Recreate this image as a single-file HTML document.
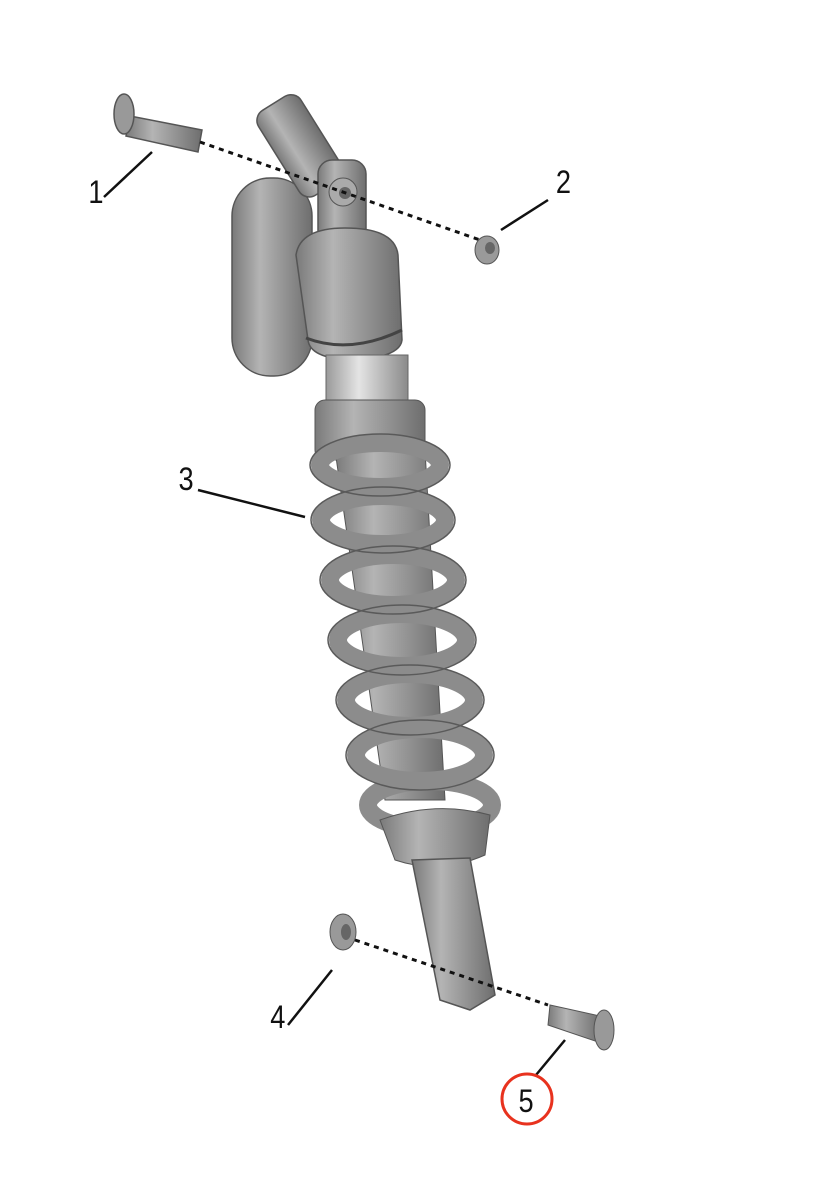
<!DOCTYPE html>
<html><head><meta charset="utf-8"><style>
html,body{margin:0;padding:0;background:#fff;width:816px;height:1200px;overflow:hidden}
svg{display:block}
text{font-family:"Liberation Sans",sans-serif;font-size:32px;fill:#111}
</style></head><body>
<svg width="816" height="1200" viewBox="0 0 816 1200">
<defs>
<linearGradient id="g" x1="0" x2="1" y1="0" y2="0">
<stop offset="0" stop-color="#7a7a7a"/><stop offset="0.35" stop-color="#b4b4b4"/><stop offset="1" stop-color="#6e6e6e"/>
</linearGradient>
<linearGradient id="t" x1="0" x2="1">
<stop offset="0" stop-color="#9a9a9a"/><stop offset="0.4" stop-color="#e4e4e4"/><stop offset="1" stop-color="#8a8a8a"/>
</linearGradient>
</defs>
<!-- bolt 1 -->
<g stroke="#555" stroke-width="1.5">
<polygon points="130,116 202,130 198,152 126,136" fill="url(#g)"/>
<ellipse cx="124" cy="114" rx="10" ry="20" fill="#999"/>
</g>
<!-- reservoir -->
<rect x="232" y="178" width="80" height="198" rx="38" fill="url(#g)" stroke="#555" stroke-width="1.5"/>
<!-- top eye -->
<g transform="rotate(-32 300 140)">
<rect x="272" y="95" width="50" height="100" rx="12" fill="url(#g)" stroke="#555" stroke-width="1.5"/>
</g>
<rect x="318" y="160" width="48" height="90" rx="14" fill="url(#g)" stroke="#555" stroke-width="1.5"/>
<circle cx="343" cy="192" r="14" fill="#aaa" stroke="#555"/>
<circle cx="345" cy="193" r="6" fill="#666"/>
<!-- body cap -->
<path d="M296,255 Q300,228 345,228 Q395,228 398,255 L402,340 Q400,358 350,360 Q310,358 308,340 Z" fill="url(#g)" stroke="#555" stroke-width="1.5"/>
<path d="M306,338 Q350,355 402,330" fill="none" stroke="#444" stroke-width="3"/>
<line x1="200" y1="142" x2="480" y2="240" stroke="#111" stroke-width="3" stroke-dasharray="5,5"/>
<!-- nut 2 -->
<ellipse cx="487" cy="250" rx="12" ry="14" fill="#9a9a9a" stroke="#555"/>
<ellipse cx="490" cy="248" rx="5" ry="6" fill="#666"/>
<!-- thread -->
<rect x="326" y="355" width="82" height="90" fill="url(#t)" stroke="#666"/>
<!-- collar -->
<rect x="315" y="400" width="110" height="60" rx="10" fill="url(#g)" stroke="#555"/>
<!-- shaft body -->
<polygon points="335,450 425,450 445,800 385,800" fill="url(#g)" stroke="#555"/>
<!-- spring coils -->
<g fill="none" stroke="#8c8c8c" stroke-width="18">
<ellipse cx="380" cy="465" rx="60" ry="22"/>
<ellipse cx="383" cy="520" rx="62" ry="24"/>
<ellipse cx="393" cy="580" rx="63" ry="25"/>
<ellipse cx="402" cy="640" rx="64" ry="26"/>
<ellipse cx="410" cy="700" rx="64" ry="26"/>
<ellipse cx="420" cy="755" rx="64" ry="26"/>
<ellipse cx="430" cy="805" rx="62" ry="24"/>
</g>
<g fill="none" stroke="#5a5a5a" stroke-width="1.5">
<ellipse cx="380" cy="465" rx="70" ry="31"/>
<ellipse cx="383" cy="520" rx="72" ry="33"/>
<ellipse cx="393" cy="580" rx="73" ry="34"/>
<ellipse cx="402" cy="640" rx="74" ry="35"/>
<ellipse cx="410" cy="700" rx="74" ry="35"/>
<ellipse cx="420" cy="755" rx="74" ry="35"/>
</g>
<!-- spring seat -->
<path d="M380,820 Q435,800 490,815 L485,855 Q440,875 395,860 Z" fill="url(#g)" stroke="#555"/>
<!-- clevis -->
<polygon points="412,860 470,858 495,995 470,1010 440,1000" fill="url(#g)" stroke="#555" stroke-width="1.5"/>
<!-- washer 4 -->
<ellipse cx="343" cy="932" rx="13" ry="18" fill="#999" stroke="#555"/>
<ellipse cx="346" cy="932" rx="5" ry="8" fill="#666"/>
<line x1="355" y1="940" x2="548" y2="1005" stroke="#111" stroke-width="3" stroke-dasharray="5,5"/>
<!-- bolt 5 -->
<polygon points="550,1005 600,1016 598,1042 548,1025" fill="url(#g)" stroke="#555"/>
<ellipse cx="604" cy="1030" rx="10" ry="20" fill="#999" stroke="#555"/>
<!-- labels -->
<g stroke="#111" stroke-width="2.5">
<line x1="104" y1="197" x2="152" y2="152"/>
<line x1="548" y1="200" x2="501" y2="230"/>
<line x1="198" y1="490" x2="305" y2="517"/>
<line x1="288" y1="1025" x2="332" y2="970"/>
<line x1="536" y1="1075" x2="565" y2="1040"/>
</g>
<g transform="scale(0.85,1)">
<text x="104" y="203">1</text>
<text x="654" y="193">2</text>
<text x="210" y="490">3</text>
<text x="318" y="1028">4</text>
<text x="610" y="1112">5</text>
</g>
<circle cx="527" cy="1099" r="25" fill="none" stroke="#e8321e" stroke-width="3"/>
</svg>
</body></html>
